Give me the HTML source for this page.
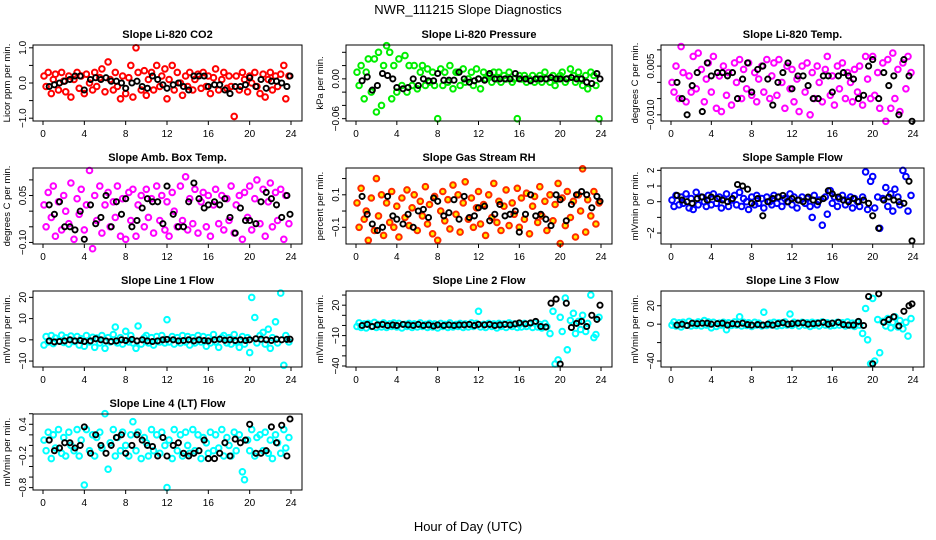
<!DOCTYPE html>
<html><head><meta charset="utf-8"><style>
html,body{margin:0;padding:0;background:#fff}
svg{display:block;font-family:"Liberation Sans",sans-serif}
</style></head><body>
<svg id="chart" width="936" height="540" viewBox="0 0 936 540" xmlns="http://www.w3.org/2000/svg">
<rect x="0" y="0" width="936" height="540" fill="#fff"/>
<text x="468" y="14" text-anchor="middle" font-size="13">NWR_111215  Slope Diagnostics</text>
<text x="468" y="531" text-anchor="middle" font-size="13">Hour of Day (UTC)</text>
</svg>
<script>
const hoursColored = [0.1,0.3,0.5,0.8,1.0,1.2,1.5,1.8,2.0,2.2,2.5,2.7,3.0,3.3,3.5,3.7,4.0,4.2,4.5,4.8,5.0,5.2,5.5,5.7,6.0,6.3,6.5,6.8,7.0,7.2,7.5,7.7,8.0,8.3,8.5,8.7,9.0,9.2,9.5,9.8,10.0,10.2,10.5,10.7,11.0,11.3,11.5,11.8,12.0,12.2,12.5,12.7,13.0,13.3,13.5,13.8,14.0,14.2,14.5,14.7,15.0,15.3,15.5,15.8,16.0,16.2,16.5,16.7,17.0,17.3,17.5,17.8,18.0,18.2,18.5,18.7,19.0,19.3,19.5,19.8,20.0,20.2,20.5,20.7,21.0,21.3,21.5,21.8,22.0,22.2,22.5,22.7,23.0,23.3,23.5,23.8];
const hoursBlack = [0.6,1.1,1.6,2.1,2.6,3.1,3.6,4.0,4.6,5.1,5.6,6.1,6.6,7.1,7.6,8.0,8.6,9.1,9.6,10.1,10.6,11.1,11.6,12.0,12.6,13.1,13.6,14.1,14.6,15.1,15.6,16.0,16.6,17.1,17.6,18.1,18.6,19.1,19.6,20.0,20.6,21.1,21.6,22.1,22.6,23.1,23.6,23.9];
const xTicks = [0,4,8,12,16,20,24];

const co2Colored = [0.2,-0.1,0.3,-0.3,0.1,0.25,-0.2,0.3,0.05,-0.25,0.2,-0.4,0.1,0.3,-0.15,0.2,-0.3,0.25,0.0,-0.2,0.3,-0.1,0.15,0.4,-0.25,0.6,0.1,-0.2,0.3,-0.1,-0.45,0.2,-0.3,0.15,0.5,-0.4,1.0,0.3,-0.2,0.35,-0.35,0.1,0.3,-0.2,0.5,-0.1,0.2,0.4,-0.45,0.1,0.5,-0.2,0.3,0.0,-0.35,0.2,-0.1,0.3,-0.2,0.1,0.25,-0.15,0.3,-0.1,0.2,-0.3,0.15,0.4,-0.2,0.1,0.3,-0.15,0.2,-0.1,-0.95,0.2,-0.2,0.3,0.1,-0.25,0.2,0.0,0.3,-0.1,-0.3,0.25,-0.4,0.1,0.3,-0.2,0.2,-0.1,0.25,0.5,-0.45,0.2];
const co2Black = [-0.1,-0.05,0.0,0.05,0.1,0.2,0.2,-0.2,0.1,0.15,0.1,0.15,0.05,0.05,0.0,-0.15,0.0,0.05,-0.1,-0.15,0.2,0.1,-0.05,-0.15,-0.05,0.0,-0.1,-0.2,0.2,0.2,0.2,-0.1,-0.05,-0.05,-0.2,-0.3,-0.1,-0.1,-0.05,0.15,-0.1,0.1,-0.15,0.05,0.05,0.0,-0.1,0.2];

const presColored = [0.01,-0.01,0.02,-0.03,0.01,0.03,-0.02,0.03,-0.05,0.04,-0.04,0.02,0.05,0.04,-0.03,0.02,-0.02,0.03,-0.01,0.035,-0.02,0.02,-0.01,0.02,-0.015,0.01,0.02,-0.01,0.015,-0.005,0.01,-0.01,-0.06,0.015,-0.01,0.01,-0.005,0.02,-0.015,0.01,0.01,-0.01,0.015,-0.005,0.0,0.01,-0.01,0.015,0.0,-0.015,0.01,0.0,0.005,-0.005,0.01,0.0,0.01,-0.005,0.005,0.0,0.01,-0.005,0.0,-0.06,0.005,0.0,0.005,-0.005,0.0,0.005,-0.005,0.0,0.005,-0.005,0.01,0.0,-0.005,0.005,-0.01,0.0,0.005,0.01,-0.005,0.0,0.015,0.005,-0.005,0.01,0.0,-0.01,0.005,-0.015,0.01,0.005,-0.01,-0.06];
const presBlack = [-0.003,0.003,-0.017,-0.01,0.008,0.005,0.0,-0.013,-0.015,-0.013,0.0,-0.01,0.0,-0.003,-0.003,0.008,-0.002,-0.002,-0.002,0.01,0.0,-0.005,-0.003,0.0,-0.002,0.008,0.0,0.0,0.0,0.0,0.008,0.0,0.0,-0.003,0.0,0.0,0.0,0.002,0.0,0.0,0.0,0.002,0.0,0.0,-0.005,-0.007,0.008,0.0];

const tempColored = [0.0,-0.003,0.005,-0.005,0.011,0.003,-0.006,0.002,-0.003,0.008,-0.002,0.009,0.004,-0.006,0.001,0.006,-0.003,0.008,-0.008,0.002,-0.009,0.005,-0.004,0.003,-0.007,0.006,0.0,0.007,-0.005,0.004,-0.002,0.006,-0.004,0.003,-0.006,0.001,0.005,-0.003,0.007,-0.005,0.002,0.006,-0.004,0.007,0.0,-0.008,0.005,-0.002,0.004,-0.006,0.001,-0.009,0.005,-0.003,0.006,-0.010,0.003,-0.005,0.005,0.0,-0.006,0.004,0.008,-0.004,0.002,-0.007,0.005,-0.002,0.006,-0.005,0.003,0.0,-0.006,0.004,-0.003,0.005,-0.007,0.008,0.001,-0.005,0.008,-0.004,0.003,-0.008,0.006,-0.012,0.007,-0.008,0.009,-0.005,0.004,-0.009,0.006,-0.002,0.008,0.003];
const tempBlack = [0.0,-0.005,-0.010,-0.001,0.003,-0.009,0.006,0.002,0.003,0.003,0.002,0.003,-0.005,0.001,0.006,-0.003,0.004,0.005,0.001,-0.007,0.000,0.003,0.006,-0.002,0.002,0.002,-0.001,-0.005,-0.005,0.002,0.002,-0.003,0.002,0.003,0.002,0.001,-0.005,-0.004,0.005,0.007,-0.005,0.003,-0.001,0.002,-0.010,0.007,0.002,-0.012];

const ambColored = [0.02,-0.05,0.06,-0.02,0.08,-0.08,0.03,-0.06,0.05,0.0,-0.04,0.09,-0.09,0.04,-0.01,0.07,-0.06,0.02,0.13,-0.12,0.05,-0.03,0.08,-0.07,0.02,0.06,-0.05,0.03,-0.02,0.08,-0.08,0.04,-0.09,0.06,-0.03,0.07,-0.08,0.02,0.05,-0.05,0.07,-0.02,0.04,-0.07,0.08,-0.03,0.05,-0.06,0.03,-0.08,0.06,0.0,-0.05,0.08,-0.03,0.11,-0.06,0.04,-0.04,0.07,-0.07,0.03,0.06,-0.05,0.05,-0.08,0.02,0.07,-0.04,0.05,-0.06,0.04,-0.03,0.08,-0.07,0.02,0.05,-0.09,0.06,-0.02,0.08,-0.06,0.04,0.1,-0.04,0.07,-0.08,0.03,0.09,-0.05,0.06,-0.03,0.07,-0.09,0.05,-0.04];
const ambBlack = [0.02,-0.01,0.03,-0.05,-0.05,-0.06,0.0,-0.09,0.02,-0.04,-0.02,0.05,-0.05,0.03,-0.01,0.04,-0.05,-0.03,0.01,0.04,0.03,0.03,-0.04,0.08,-0.01,-0.05,-0.05,0.03,0.09,0.04,0.01,0.02,0.03,0.02,0.04,-0.02,-0.07,0.01,-0.03,-0.03,-0.04,0.03,0.06,0.04,0.02,-0.02,0.05,-0.01];

const rhColored = [0.05,-0.1,0.14,-0.05,0.0,-0.18,0.08,-0.12,0.2,-0.03,0.1,-0.15,0.05,-0.07,0.12,-0.1,0.03,-0.16,0.08,-0.04,0.13,-0.09,0.02,0.1,-0.12,0.06,-0.03,0.15,-0.08,0.04,-0.14,0.09,-0.18,0.0,0.12,-0.06,0.07,-0.11,0.16,-0.02,0.1,-0.13,0.05,0.18,-0.05,0.08,-0.1,0.02,0.12,-0.08,0.04,-0.15,0.1,-0.04,0.17,-0.07,0.06,-0.12,0.03,0.13,-0.09,0.05,-0.02,0.14,-0.1,0.08,-0.05,0.11,-0.14,0.03,0.09,-0.07,0.15,-0.03,0.06,-0.12,0.1,-0.06,0.04,0.17,-0.2,0.08,-0.09,0.12,-0.04,0.06,-0.16,0.1,0.0,0.26,-0.13,0.07,-0.03,0.12,-0.08,0.05];
const rhBlack = [0.09,-0.02,-0.08,-0.12,-0.1,0.09,-0.03,-0.05,-0.08,-0.02,-0.1,0.0,0.01,-0.04,0.08,0.06,-0.03,-0.01,0.07,-0.05,0.09,-0.04,-0.03,0.02,0.03,-0.06,-0.02,0.04,-0.03,-0.02,0.0,-0.13,-0.02,0.10,-0.03,-0.02,-0.05,-0.09,0.10,0.07,-0.06,0.04,0.10,0.12,0.10,0.02,0.09,0.06];

const flowColored = [0.1,-0.3,0.4,-0.2,0.3,-0.1,0.5,-0.4,0.2,-0.5,0.6,-0.2,0.3,0.0,-0.3,0.4,-0.2,0.5,-0.1,0.3,-0.4,0.2,0.5,-0.3,0.1,0.4,-0.2,0.6,-0.3,0.2,0.0,-0.5,0.3,-0.2,0.4,-0.1,0.2,-0.4,0.3,0.0,-0.2,0.4,-0.1,0.3,-0.3,0.2,0.0,0.5,-0.2,0.3,-0.4,0.1,0.3,-0.1,0.2,-0.3,-1.0,0.4,-0.2,0.1,-1.5,0.3,-0.8,0.7,-0.1,0.3,-0.3,0.2,0.4,-0.2,0.1,0.3,-0.4,0.2,0.0,-0.3,0.3,1.9,-0.5,1.3,1.6,-0.4,0.3,-1.7,0.2,0.9,-0.3,0.5,-0.6,0.8,0.3,-0.2,2.0,1.6,-0.6,0.4];
const flowBlack = [0.4,0.1,0.0,-0.1,0.2,0.3,0.1,0.3,0.2,0.1,0.0,0.2,1.1,1.0,0.8,-0.1,0.2,-0.9,0.0,0.2,0.3,0.4,0.0,0.2,0.1,0.0,0.3,0.1,0.0,0.2,0.7,0.5,0.3,0.1,0.0,0.2,0.0,0.1,-0.1,-0.9,-1.7,0.1,0.3,0.1,0.0,-0.1,1.3,-2.5];

const line1Colored = [-2.5,1.5,-1.0,2.0,-1.8,0.8,-0.5,2.2,-1.2,1.0,-2.0,1.8,-0.8,1.5,-2.5,0.5,-3.0,2.0,-1.0,1.2,-3.5,0.8,-1.5,2.0,-4.0,1.0,-1.0,2.5,6.0,-1.5,1.0,-2.0,4.0,-1.0,2.0,-1.5,-4.0,6.5,-2.0,1.0,2.0,-1.5,1.0,-2.5,1.5,-1.0,2.0,-1.5,9.5,-1.0,1.5,-2.0,1.0,-1.5,2.0,-1.0,1.5,-2.5,1.0,-1.5,2.0,-1.0,1.5,-3.0,1.0,-1.5,2.5,-1.0,-3.5,1.0,2.0,-1.5,1.0,-2.0,2.5,-1.0,-3.5,1.5,-2.0,1.0,-6.0,20.0,10.5,-1.5,2.0,3.5,-2.0,5.0,-4.0,1.0,8.5,-1.5,22.0,-12.0,2.0,-1.0];
const line1Black = [-0.5,-1.0,-0.8,-0.5,0.0,-0.5,-0.3,-0.8,-0.5,0.5,0.0,-0.5,-0.8,-0.5,0.0,-0.3,0.2,-0.5,0.0,-0.5,-0.8,-0.5,0.0,0.2,0.0,-0.5,-0.3,0.0,-0.5,0.0,-0.3,-0.5,0.0,0.3,-0.2,0.0,-0.3,0.0,-0.3,0.0,0.5,0.3,0.0,-0.3,0.3,0.0,0.2,0.3];

const line2Colored = [-1.0,2.5,-2.0,1.5,-2.5,2.0,-1.0,3.0,-2.0,1.0,-1.5,2.5,-2.0,1.5,-1.0,2.5,-1.5,2.0,-2.5,1.0,-1.0,2.0,-2.0,1.5,-1.5,2.5,-1.0,1.0,-2.0,2.0,-1.5,1.5,-2.5,2.0,-1.0,1.0,-2.0,2.5,-1.5,1.0,-1.0,2.0,-2.0,1.5,-1.5,2.5,-1.0,2.0,14.0,-1.5,1.0,-2.0,2.0,-1.0,1.5,-2.5,2.0,-1.0,1.5,-2.0,2.5,-1.0,1.5,-2.0,1.0,-1.5,2.0,-1.0,1.5,-2.0,2.5,-1.5,1.0,-2.5,2.0,-1.0,-8.0,14.0,-38.0,-34.0,8.0,-6.0,27.0,-24.0,5.0,12.0,-8.0,4.0,-4.0,10.0,-6.0,2.0,30.0,-12.0,-9.0,8.0];
const line2Black = [0.0,1.0,-1.0,0.5,1.0,0.0,0.5,0.0,1.0,0.5,0.0,1.0,0.0,0.5,-0.5,0.5,0.0,0.5,0.0,0.5,0.5,1.0,0.0,1.0,0.5,1.0,0.0,0.5,1.0,0.5,1.5,2.5,1.5,2.5,4.0,-1.0,-1.5,22.0,26.0,-38.0,22.0,-2.0,2.0,4.0,-1.0,10.0,6.0,20.0];

const line3Colored = [-1.0,2.5,-2.0,1.5,-3.0,2.0,-1.0,3.0,-2.0,1.0,-1.5,2.5,-2.0,4.0,-1.0,2.5,-4.0,2.0,-2.5,1.0,-1.0,2.0,-6.0,1.5,-1.5,2.5,-1.0,8.0,-2.0,2.0,-1.5,1.5,-2.5,2.0,-1.0,1.0,-2.0,13.0,-1.5,1.0,-1.0,2.0,-2.0,1.5,-1.5,2.5,-1.0,11.0,-1.5,2.0,1.0,-2.0,2.0,-1.0,1.5,-2.5,2.0,-1.0,1.5,-2.0,2.5,-1.0,1.5,-2.0,1.0,-1.5,2.0,-1.0,1.5,-2.0,2.5,-1.5,1.0,-2.5,2.0,-1.0,-10.0,17.0,-17.0,-43.0,28.0,-40.0,5.0,-31.0,3.0,-2.0,6.0,-4.0,2.0,8.0,-3.0,4.0,-5.0,2.0,-13.0,6.0];
const line3Black = [-1.0,0.0,-1.5,1.0,0.5,1.0,1.0,0.0,0.5,1.0,-1.0,0.5,0.0,1.0,-0.5,-1.0,-0.5,-1.0,0.0,-1.0,0.5,1.5,0.0,0.5,1.0,1.5,0.0,0.5,1.0,2.0,0.0,1.0,2.0,-0.5,-1.0,-1.0,3.0,-1.5,30.0,-43.0,33.0,2.0,5.0,8.0,-2.0,14.0,20.0,22.0];

const line4Colored = [0.1,-0.1,0.25,-0.25,0.2,-0.05,0.3,-0.15,0.15,-0.2,0.25,0.0,-0.1,0.3,-0.2,0.1,-0.75,0.3,-0.1,0.2,-0.2,0.15,0.25,-0.05,0.6,-0.45,0.05,0.3,-0.2,0.15,-0.1,0.25,0.0,-0.2,0.2,0.45,-0.1,0.25,-0.25,0.15,0.05,-0.2,0.3,-0.1,0.2,-0.15,0.25,0.0,-0.8,0.1,-0.25,0.3,-0.1,0.2,-0.2,0.25,0.0,-0.15,0.3,-0.1,0.2,-0.25,0.15,0.05,-0.15,0.25,-0.1,0.2,-0.05,0.3,-0.2,0.15,0.0,-0.2,0.25,-0.1,0.2,-0.5,-0.65,0.1,-0.1,0.3,-0.2,0.15,0.2,-0.1,0.25,-0.15,0.1,-0.25,0.2,0.05,-0.15,0.3,-0.05,0.15];
const line4Black = [0.1,-0.1,-0.05,0.05,0.05,-0.05,0.0,0.35,-0.15,0.2,0.0,-0.15,0.0,0.15,0.2,-0.15,0.0,0.2,0.1,0.0,-0.02,-0.2,0.15,-0.2,0.0,0.05,-0.15,-0.2,-0.15,-0.1,0.1,-0.25,-0.25,-0.15,0.05,-0.2,0.12,0.05,0.1,0.4,-0.15,-0.15,-0.1,0.35,0.05,0.38,-0.2,0.5];

const panelTitles = ["Slope Li-820 CO2","Slope Li-820 Pressure","Slope Li-820 Temp.","Slope Amb. Box Temp.","Slope Gas Stream RH","Slope Sample Flow","Slope Line 1 Flow","Slope Line 2 Flow","Slope Line 3 Flow","Slope Line 4 (LT) Flow"];
const yTitles = ["Licor ppm per min.","kPa per min.","degrees C per min.","degrees C per min.","percent per min.","mlVmin per min.","mlVmin per min.","mlVmin per min.","mlVmin per min.","mlVmin per min."];
const yTicks = [[-1,-0.5,0,0.5,1],[-0.06,-0.04,-0.02,0,0.02,0.04],[-0.01,-0.005,0,0.005,0.01],[-0.1,-0.05,0,0.05,0.1],[-0.1,0,0.1,0.2],[-2,-1,0,1,2],[-10,0,10,20],[-40,-30,-20,-10,0,10,20,30],[-40,-20,0,20],[-0.8,-0.6,-0.4,-0.2,0,0.2,0.4,0.6]];
const yTickLabels = [[[1,"1.0"],[0,"0.0"],[-1,"−1.0"]],[[0,"0.00"],[-0.06,"−0.06"]],[[0.005,"0.005"],[-0.01,"−0.010"]],[[0.05,"0.05"],[-0.1,"−0.10"]],[[0.1,"0.1"],[-0.1,"−0.1"]],[[2,"2"],[1,"1"],[0,"0"],[-2,"−2"]],[[20,"20"],[10,"10"],[0,"0"],[-10,"−10"]],[[20,"20"],[-10,"−10"],[-40,"−40"]],[[20,"20"],[0,"0"],[-40,"−40"]],[[0.4,"0.4"],[-0.2,"−0.2"],[-0.8,"−0.8"]]];
const yDomains = [[-1.08,1.08],[-0.0635,0.051],[-0.0119,0.0115],[-0.105,0.138],[-0.203,0.265],[-2.7,2.15],[-12.8,23],[-41,34],[-46.5,36],[-0.845,0.595]];
const coloredSeries = [co2Colored,presColored,tempColored,ambColored,rhColored,flowColored,line1Colored,line2Colored,line3Colored,line4Colored];
const blackSeries = [co2Black,presBlack,tempBlack,ambBlack,rhBlack,flowBlack,line1Black,line2Black,line3Black,line4Black];

const strokes = ["#ff0000","#00ee00","#ff00ff","#ff00ff","#ff2a00","#0000ff","#00ffff","#00ffff","#00ffff","#00ffff"];
const fills = ["none","none","none","none","#ffee00","none","none","none","none","none"];
const colBox = [[33,302],[346,612],[661,924]];
const rowTop = [45,168,291,414];
const boxH = 76;
const NS = "http://www.w3.org/2000/svg";
const svg = document.getElementById('chart');
function mk(tag, attrs, parent){const e=document.createElementNS(NS,tag);for(const k in attrs)e.setAttribute(k,attrs[k]);(parent||svg).appendChild(e);return e;}

for(let p=0;p<10;p++){
  const col=p%3,row=Math.floor(p/3);
  const L=colBox[col][0],R=colBox[col][1],T=rowTop[row],B=T+boxH;
  const x0=L+10,x1=R-11;
  const xs=h=>x0+(h/24)*(x1-x0);
  const d=yDomains[p];
  const ys=v=>B-(v-d[0])/(d[1]-d[0])*(B-T);
  const g=mk('g',{});
  
  
  const t=mk('text',{x:(L+R)/2,y:T-7,'text-anchor':'middle','font-size':'11','font-weight':'bold'},g);
  
  
  t.textContent=panelTitles[p];
  const gc=mk('g',{fill:fills[p],stroke:strokes[p],'stroke-width':'2'},g);
  
  
  const cs=coloredSeries[p];
  const nC=Math.min(cs.length,hoursColored.length);
  for(let i=0;i<nC;i++){
    const c=mk('circle',{cx:xs(hoursColored[i]).toFixed(1),cy:ys(cs[i]).toFixed(1),r:'2.8'},gc);
    
    
  }
  const gk=mk('g',{fill:'none',stroke:'#000','stroke-width':'1.9'},g);
  
  
  const bs=blackSeries[p];
  const nB=Math.min(bs.length,hoursBlack.length);
  for(let i=0;i<nB;i++){
    const c=mk('circle',{cx:xs(hoursBlack[i]).toFixed(1),cy:ys(bs[i]).toFixed(1),r:'2.6'},gk);
    
    
  }
  const box=mk('rect',{x:L,y:T,width:R-L,height:boxH,fill:'none',stroke:'#000','stroke-width':'1'},g);
  
  
  const xa=mk('g',{stroke:'#000','stroke-width':'1'},g);
  
  
  mk('line',{x1:xs(xTicks[0]),x2:xs(xTicks[xTicks.length-1]),y1:B,y2:B},xa);
  xTicks.forEach(v=>{
    mk('line',{x1:xs(v),x2:xs(v),y1:B,y2:B+4},xa);
    const tl=mk('text',{x:xs(v),y:B+16,'text-anchor':'middle','font-size':'10',stroke:'none',fill:'#000'},g);
    
    
    tl.textContent=String(v);
  });
  const ya=mk('g',{stroke:'#000','stroke-width':'1'},g);
  
  
  const yt=yTicks[p];
  mk('line',{x1:L,x2:L,y1:ys(yt[0]),y2:ys(yt[yt.length-1])},ya);
  yt.forEach(v=>{mk('line',{x1:L-4,x2:L,y1:ys(v),y2:ys(v)},ya);});
  yTickLabels[p].forEach(([v,s])=>{
    const yy=ys(v),xx=L-7;
    const tl=mk('text',{x:xx,y:yy,'text-anchor':'middle','font-size':'10',transform:`rotate(-90 ${xx} ${yy})`},g);
    
    
    tl.textContent=s;
  });
  const yl=L-23,ym=(T+B)/2;
  const ytt=mk('text',{x:yl,y:ym,'text-anchor':'middle','font-size':'9.5',transform:`rotate(-90 ${yl} ${ym})`},g);
  
  
  ytt.textContent=yTitles[p];
}
</script>
</body></html>
